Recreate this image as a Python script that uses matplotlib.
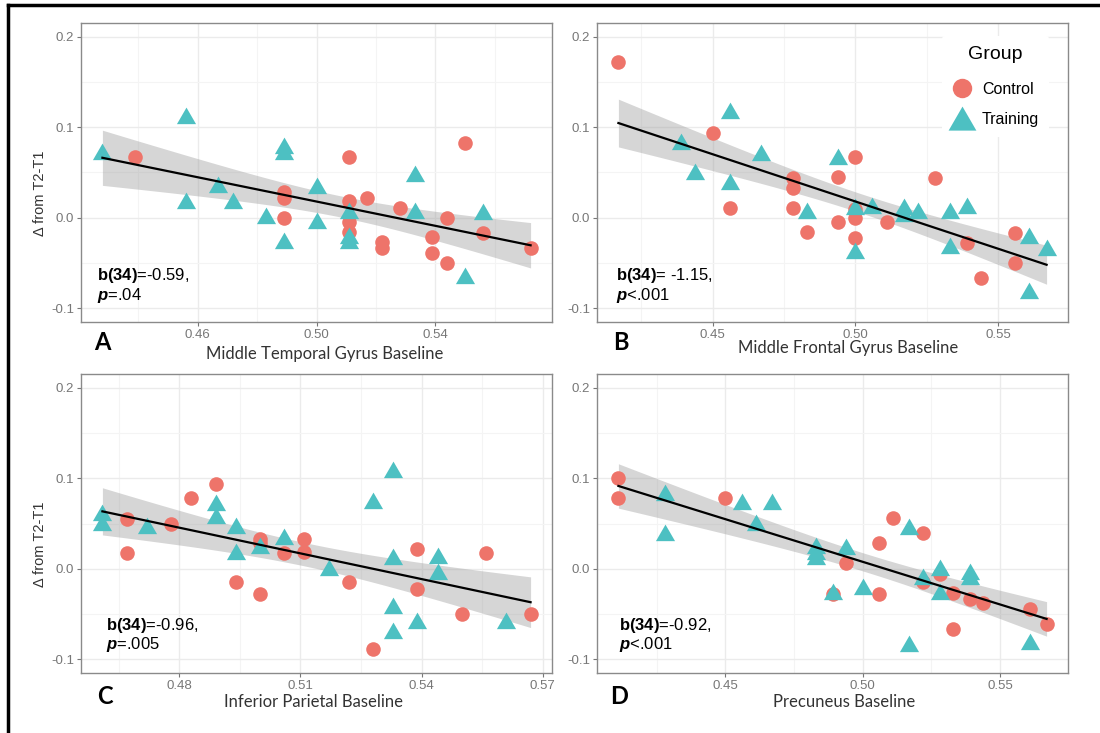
import numpy as np
import matplotlib.pyplot as plt
from matplotlib.path import Path
from matplotlib.lines import Line2D

plt.rcParams['font.family'] = ['Liberation Sans', 'DejaVu Sans']
plt.rcParams['mathtext.fontset'] = 'custom'
plt.rcParams['mathtext.rm'] = 'Liberation Sans'
plt.rcParams['mathtext.bf'] = 'Liberation Sans:bold'
plt.rcParams['mathtext.bfit'] = 'Liberation Sans:italic:bold'

# --- Daten ---
# A: Middle Temporal Gyrus
mtg_ctrl_x = [0.439, 0.489, 0.489, 0.489, 0.511, 0.511, 0.511, 0.511, 0.517, 0.522,
              0.522, 0.528, 0.539, 0.539, 0.544, 0.544, 0.550, 0.556, 0.572]
mtg_ctrl_y = [0.067, 0.028, 0.022, 0.000, 0.067, 0.018, -0.005, -0.016, 0.022, -0.027,
              -0.033, 0.011, -0.021, -0.039, 0.000, -0.050, 0.083, -0.017, -0.033]
mtg_train_x = [0.428, 0.456, 0.456, 0.467, 0.472, 0.483, 0.489, 0.489, 0.489, 0.500,
               0.500, 0.511, 0.511, 0.511, 0.533, 0.533, 0.550, 0.556]
mtg_train_y = [0.073, 0.112, 0.018, 0.036, 0.019, 0.002, 0.079, 0.073, -0.026, 0.035,
               -0.004, 0.007, -0.020, -0.026, 0.048, 0.007, -0.064, 0.006]

# B: Middle Frontal Gyrus
mfg_ctrl_x = [0.417, 0.450, 0.456, 0.478, 0.478, 0.478, 0.483, 0.494, 0.494, 0.500,
              0.500, 0.500, 0.500, 0.511, 0.528, 0.539, 0.544, 0.556, 0.556]
mfg_ctrl_y = [0.172, 0.094, 0.011, 0.044, 0.033, 0.011, -0.016, 0.045, -0.005, 0.067,
              0.010, 0.000, -0.022, -0.005, 0.044, -0.028, -0.066, -0.017, -0.050]
mfg_train_x = [0.439, 0.444, 0.456, 0.456, 0.467, 0.483, 0.494, 0.500, 0.500, 0.506,
               0.517, 0.517, 0.522, 0.533, 0.533, 0.539, 0.561, 0.561, 0.567]
mfg_train_y = [0.084, 0.051, 0.118, 0.039, 0.072, 0.007, 0.067, 0.012, -0.037, 0.013,
               0.012, 0.004, 0.007, 0.007, -0.031, 0.013, -0.020, -0.081, -0.033]

# C: Inferior Parietal
ipl_ctrl_x = [0.467, 0.467, 0.478, 0.483, 0.489, 0.494, 0.500, 0.500, 0.500, 0.506,
              0.511, 0.511, 0.522, 0.528, 0.539, 0.539, 0.550, 0.556, 0.567]
ipl_ctrl_y = [0.055, 0.017, 0.050, 0.078, 0.094, -0.015, 0.033, 0.028, -0.028, 0.017,
              0.033, 0.018, -0.015, -0.089, 0.022, -0.022, -0.050, 0.017, -0.050]
ipl_train_x = [0.461, 0.461, 0.472, 0.489, 0.489, 0.494, 0.494, 0.500, 0.506, 0.517,
               0.528, 0.533, 0.533, 0.533, 0.533, 0.539, 0.544, 0.544, 0.561]
ipl_train_y = [0.062, 0.051, 0.047, 0.073, 0.058, 0.047, 0.019, 0.025, 0.035, 0.001,
               0.075, 0.109, 0.013, -0.041, -0.069, -0.058, 0.014, -0.003, -0.058]

# D: Precuneus
pcu_ctrl_x = [0.411, 0.411, 0.450, 0.489, 0.494, 0.506, 0.506, 0.511, 0.522, 0.522,
              0.528, 0.533, 0.533, 0.539, 0.544, 0.561, 0.567]
pcu_ctrl_y = [0.100, 0.078, 0.078, -0.028, 0.006, 0.028, -0.028, 0.056, 0.039, -0.015,
              -0.006, -0.027, -0.066, -0.033, -0.038, -0.044, -0.061]
pcu_train_x = [0.428, 0.428, 0.456, 0.461, 0.467, 0.483, 0.483, 0.483, 0.489, 0.494,
               0.500, 0.517, 0.517, 0.522, 0.528, 0.528, 0.539, 0.539, 0.561]
pcu_train_y = [0.084, 0.040, 0.074, 0.051, 0.074, 0.025, 0.018, 0.013, -0.026, 0.024,
               -0.020, 0.046, -0.083, -0.009, 0.001, -0.026, -0.004, -0.009, -0.081]

panel_letters = ['A', 'B', 'C', 'D']
x_labels = ['Middle Temporal Gyrus Baseline', 'Middle Frontal Gyrus Baseline',
            'Inferior Parietal Baseline', 'Precuneus Baseline']
stat_b = ['=-0.59,', '= -1.15,', '=-0.96,', '=-0.92,']
stat_p = ['=.04', '<.001', '=.005', '<.001']
x_major = [[0.46, 0.50, 0.54], [0.45, 0.50, 0.55], [0.48, 0.51, 0.54, 0.57], [0.45, 0.50, 0.55]]
x_minor = [[0.44, 0.48, 0.52, 0.56], [0.425, 0.475, 0.525], [0.465, 0.495, 0.525, 0.555],
           [0.425, 0.475, 0.525]]
y_major = [-0.1, 0.0, 0.1, 0.2]
y_minor = [-0.05, 0.05, 0.15]

panels = [
    (mtg_ctrl_x, mtg_ctrl_y, mtg_train_x, mtg_train_y),
    (mfg_ctrl_x, mfg_ctrl_y, mfg_train_x, mfg_train_y),
    (ipl_ctrl_x, ipl_ctrl_y, ipl_train_x, ipl_train_y),
    (pcu_ctrl_x, pcu_ctrl_y, pcu_train_x, pcu_train_y),
]

C_CTRL = '#EE746A'
C_TRAIN = '#4DC0C2'
TRI = Path([(-1, -0.8), (1, -0.8), (0, 0.93), (-1, -0.8)],
           [Path.MOVETO, Path.LINETO, Path.LINETO, Path.CLOSEPOLY])

W, H = 1100, 733
fig = plt.figure(figsize=(11, 7.33), dpi=100)

# Achsenpositionen in Pixeln (links, oben, rechts, unten)
boxes = [(81, 23, 552, 322), (597, 23, 1068, 322), (81, 374, 552, 673), (597, 374, 1068, 673)]
letter_pos = [(102, 343), (621, 342), (105, 697), (619, 697)]
xlab_pos = [(325, 354), (848, 348), (314, 702), (844, 702)]
stat_pos = [(0.034, 0.155), (0.040, 0.155), (0.053, 0.160), (0.047, 0.160)]


def lm_band(x, y, xs, t=2.03):
    b1, b0 = np.polyfit(x, y, 1)
    n = len(x)
    resid = y - (b0 + b1 * x)
    s = np.sqrt(np.sum(resid ** 2) / (n - 2))
    xm = x.mean()
    se = s * np.sqrt(1 / n + (xs - xm) ** 2 / np.sum((x - xm) ** 2))
    fit = b0 + b1 * xs
    return fit, fit - t * se, fit + t * se


for i, (cx, cy, tx, ty) in enumerate(panels):
    l, t, r, b = boxes[i]
    ax = fig.add_axes([l / W, 1 - b / H, (r - l) / W, (b - t) / H])
    x = np.array(cx + tx)
    y = np.array(cy + ty)
    xs = np.linspace(x.min(), x.max(), 100)
    fit, lo, hi = lm_band(x, y, xs)

    ax.fill_between(xs, lo, hi, color='#999999', alpha=0.4, lw=0, zorder=2)
    ax.scatter(cx, cy, s=110, marker='o', color=C_CTRL, lw=0, zorder=3, label='Control')
    ax.scatter(tx, ty, s=190, marker=TRI, color=C_TRAIN, lw=0, zorder=3, label='Training')
    ax.plot(xs, fit, color='black', lw=1.6, zorder=4)

    pad = 0.05 * (x.max() - x.min())
    ax.set_xlim(x.min() - pad, x.max() + pad)
    ax.set_ylim(-0.115, 0.215)

    ax.set_xticks(x_major[i])
    ax.set_xticks(x_minor[i], minor=True)
    ax.set_yticks(y_major)
    ax.set_yticks(y_minor, minor=True)
    ax.set_xticklabels([f'{v:.2f}' for v in x_major[i]])
    ax.set_yticklabels([f'{v:.1f}' for v in y_major])
    ax.grid(which='major', color='#ebebeb', lw=1.0, zorder=0)
    ax.grid(which='minor', color='#f4f4f4', lw=0.8, zorder=0)
    ax.set_axisbelow(True)
    ax.tick_params(which='major', length=3, width=0.8, color='#777777',
                   labelcolor='#777777', labelsize=9.5, pad=2)
    ax.tick_params(which='minor', length=0)
    for sp in ax.spines.values():
        sp.set_color('#8a8a8a')
        sp.set_linewidth(1.0)

    sx, sy = stat_pos[i]
    ax.text(sx, sy, r'$\mathbf{b(34)}$' + stat_b[i], transform=ax.transAxes,
            fontsize=12, color='black', va='center', ha='left')
    ax.text(sx, sy - 0.065, r'$\mathbfit{p}$' + stat_p[i], transform=ax.transAxes,
            fontsize=12, color='black', va='center', ha='left')

    px, py = letter_pos[i]
    fig.text(px / W, 1 - py / H, panel_letters[i], fontsize=17, fontweight='bold',
             family='Lato', ha='center', va='center')
    lx, ly = xlab_pos[i]
    fig.text(lx / W, 1 - ly / H, x_labels[i], fontsize=12, family='Lato',
             color='#333333', ha='center', va='center')

    if i in (0, 2):
        fig.text(40 / W, 1 - ((t + b) / 2 + 21) / H, 'Δ from T2-T1', rotation=90,
                 fontsize=10.5, color='#333333', ha='center', va='center')

# Legende
handles = [Line2D([], [], ls='none', marker='o', ms=14, color=C_CTRL, mew=0),
           Line2D([], [], ls='none', marker=TRI, ms=20, color=C_TRAIN, mew=0)]
leg = fig.legend(handles, ['Control', 'Training'], title='Group', loc='upper left',
                 bbox_to_anchor=(934 / W, 1 - 28 / H), fontsize=11.5, title_fontsize=14,
                 frameon=True, facecolor='white', edgecolor='none', framealpha=1,
                 labelspacing=0.95, handletextpad=0.6, borderpad=0.6, handlelength=1.3)
leg._legend_box.align = 'center'
leg._legend_box.sep = 14
leg.set_zorder(10)

# Rahmen links und oben
fig.add_artist(Line2D([8 / W, 8 / W], [0, 1 - 5 / H], color='black', lw=2.5))
fig.add_artist(Line2D([8 / W, 1], [1 - 5 / H, 1 - 5 / H], color='black', lw=2.5))

fig.savefig('out.png', dpi=100)
